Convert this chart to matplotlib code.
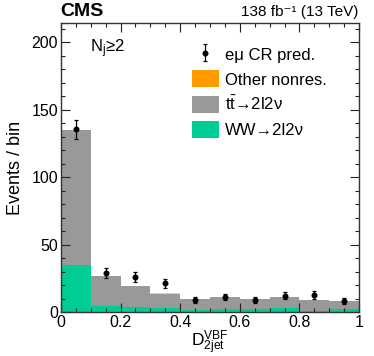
import numpy as np
import matplotlib
matplotlib.use("Agg")
import matplotlib.pyplot as plt
from matplotlib.patches import Patch
from matplotlib.ticker import MultipleLocator, FuncFormatter

plt.rcParams['font.family'] = ['Liberation Sans', 'DejaVu Sans']
plt.rcParams['mathtext.fontset'] = 'custom'
plt.rcParams['mathtext.rm'] = 'Liberation Sans'
plt.rcParams['mathtext.it'] = 'Liberation Sans:italic'
plt.rcParams['mathtext.bf'] = 'Liberation Sans:bold'

bin_edges = [0.0, 0.1, 0.2, 0.3, 0.4, 0.5, 0.6, 0.7, 0.8, 0.9, 1.0]
ww = [35.0, 4.7, 4.0, 3.2, 1.5, 2.4, 2.5, 2.7, 1.0, 2.5]
ttbar = [99.5, 21.8, 15.2, 10.4, 8.0, 8.4, 7.5, 8.3, 7.8, 5.5]
other = [0.0, 0.0, 0.4, 0.4, 0.0, 0.0, 0.0, 0.0, 0.0, 0.0]
data = [135.5, 28.7, 25.7, 21.2, 8.9, 11.1, 9.1, 12.1, 12.6, 7.9]
data_err = [7.0, 3.8, 3.6, 3.2, 2.3, 2.5, 2.3, 2.6, 2.7, 2.2]

c_ww = '#00CC96'
c_tt = '#999999'
c_other = '#FF9A00'

fig = plt.figure(figsize=(3.74, 3.56), dpi=100)
ax = fig.add_axes([0.163, 0.1236, 0.797, 0.8114])

edges = np.array(bin_edges)
ww_a = np.array(ww)
tt_a = np.array(ttbar)
ot_a = np.array(other)
s1 = ww_a
s2 = ww_a + tt_a
s3 = s2 + ot_a
ax.stairs(s3, edges, baseline=s2, fill=True, color=c_other, alpha=0.5, linewidth=0)
ax.stairs(s2, edges, baseline=s1, fill=True, color=c_tt, linewidth=0)
ax.stairs(s1, edges, baseline=0, fill=True, color=c_ww, linewidth=0)

centers = 0.5 * (edges[:-1] + edges[1:])
eb = ax.errorbar(centers, data, yerr=data_err, fmt='o', color='black', ms=3.3,
                 elinewidth=0.9, capsize=1.3, capthick=0.9, zorder=5)

ax.set_xlim(0, 1)
ax.set_ylim(0, 214)
ax.xaxis.set_major_locator(MultipleLocator(0.2))
ax.xaxis.set_minor_locator(MultipleLocator(0.05))
ax.yaxis.set_major_locator(MultipleLocator(50))
ax.yaxis.set_minor_locator(MultipleLocator(10))
ax.tick_params(which='both', direction='in', top=True, right=True, labelsize=11.5,
               color='#222222', pad=2)
ax.tick_params(which='major', length=6.5, width=0.8)
ax.tick_params(which='minor', length=3.2, width=0.8)


def xfmt(v, p):
    r = round(v, 3)
    if abs(r) < 1e-9:
        return '0'
    if abs(r - 1) < 1e-9:
        return '1'
    return f'{r:.1f}'


ax.xaxis.set_major_formatter(FuncFormatter(xfmt))
for s in ax.spines.values():
    s.set_color('#333333')
    s.set_linewidth(1.0)
    s.set_zorder(6)

ax.set_ylabel('Events / bin', fontsize=13)
ax.yaxis.set_label_coords(-0.125, 0.5)
ax.set_xlabel(r'D$_{\rm 2jet}^{\rm VBF}$', fontsize=12.5, labelpad=-1)

fig.text(0.161, 0.955, 'CMS', fontsize=14, fontweight='bold', ha='left', va='baseline')
fig.text(0.958, 0.955, '138 fb⁻¹ (13 TeV)', fontsize=11, ha='right', va='baseline')
ax.text(0.097, 0.90, r'N$_{\rm j}$≥2', transform=ax.transAxes, fontsize=12,
        ha='left', va='baseline')

handles = [eb,
           Patch(facecolor=c_other, edgecolor='none'),
           Patch(facecolor=c_tt, edgecolor='none'),
           Patch(facecolor=c_ww, edgecolor='none')]
labels = ['eμ CR pred.', 'Other nonres.', r't$\bar{\rm t}$→2l2ν', 'WW→2l2ν']
leg = ax.legend(handles, labels, loc='upper left', bbox_to_anchor=(0.44, 0.922),
                frameon=False, fontsize=12, handlelength=1.6, handleheight=1.2,
                labelspacing=0.45, handletextpad=0.36, borderaxespad=0, borderpad=0)

fig.savefig('out.png', dpi=100)
